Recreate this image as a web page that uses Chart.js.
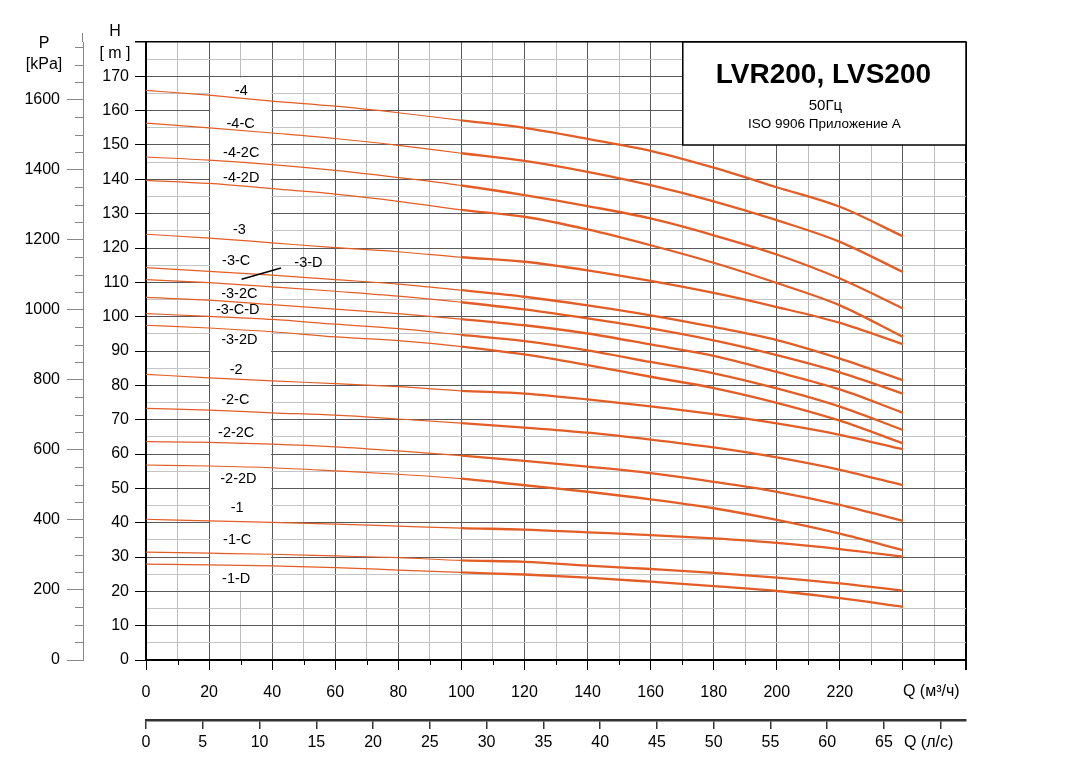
<!DOCTYPE html>
<html><head><meta charset="utf-8">
<script src="https://cdn.jsdelivr.net/npm/chart.js@4.4.0/dist/chart.umd.min.js"></script>
<style>html,body{margin:0;padding:0;background:#fff}#wrap{width:1071px;height:779px;position:relative}</style>
</head><body><div id="wrap"><canvas id="c"></canvas></div>
<script>
// ---- data ----
const flowQ = [0,20,40,60,80,100,120,140,160,180,200,220,240];          // m3/h
const curveLabels = ['-4','-4-C','-4-2C','-4-2D','-3','-3-C','-3-D','-3-2C','-3-C-D','-3-2D','-2','-2-C','-2-2C','-2-2D','-1','-1-C','-1-D'];
const head_4    = [165.9,164.5,162.8,161.3,159.4,157.2,155.0,151.8,148.3,143.4,137.7,132.0,123.4];
const head_4C   = [156.4,155.0,153.5,151.9,149.9,147.6,145.4,142.2,138.3,133.6,128.1,121.8,113.0];
const head_4_2C = [146.5,145.6,144.3,142.6,140.5,138.2,135.4,132.2,128.6,123.7,118.1,111.1,102.4];
const head_4_2D = [139.7,138.8,137.3,135.7,133.6,131.1,129.1,125.4,120.8,115.7,109.8,103.3,94.1];
const head_3    = [124.0,122.9,121.5,120.1,118.9,117.3,116.0,113.5,110.4,106.9,102.8,98.2,92.0];
const head_3C   = [114.3,113.2,112.1,110.8,109.5,107.7,105.8,103.3,100.4,97.0,93.2,87.8,81.5];
const head_3D   = [110.8,109.9,108.7,107.4,106.0,104.2,102.1,99.5,96.6,93.1,88.8,83.8,77.6];
const head_3_2C = [105.6,104.8,103.5,102.2,100.9,99.3,97.5,95.1,91.9,88.6,83.9,78.8,72.0];
const head_3CD  = [100.9,100.1,99.2,97.8,96.5,94.7,92.9,90.2,86.8,83.5,79.1,73.8,67.0];
const head_3_2D = [97.5,96.7,95.6,94.1,93.0,91.3,89.0,85.9,82.5,79.2,74.9,69.7,63.1];
const head_2    = [83.2,82.2,81.3,80.5,79.6,78.4,77.6,75.9,73.9,71.6,68.9,65.6,61.4];
const head_2C   = [73.3,72.8,72.0,71.3,70.2,69.0,67.7,66.2,64.2,61.9,59.0,55.4,50.9];
const head_2_2C = [63.6,63.4,62.9,62.1,60.9,59.5,58.0,56.3,54.4,51.9,49.0,45.2,40.5];
const head_2_2D = [56.8,56.5,56.0,55.1,54.1,52.8,50.9,49.0,46.8,44.2,40.8,36.8,32.0];
const head_1    = [41.0,40.5,40.1,39.6,39.0,38.4,38.0,37.2,36.4,35.4,34.1,32.3,30.1];
const head_1C   = [31.4,31.1,30.8,30.3,29.8,29.0,28.6,27.5,26.5,25.4,24.0,22.3,20.2];
const head_1D   = [27.9,27.7,27.4,26.9,26.2,25.5,24.9,24.0,22.8,21.5,20.1,18.0,15.5];
const curveHeads = [head_4,head_4C,head_4_2C,head_4_2D,head_3,head_3C,head_3D,head_3_2C,head_3CD,head_3_2D,head_2,head_2C,head_2_2C,head_2_2D,head_1,head_1C,head_1D];
// curve label anchors (Q, H)
const labelQ = [30.2,30.0,30.2,30.2,29.6,28.6,51.5,29.6,29.1,29.6,28.6,28.3,28.6,29.3,28.9,28.9,28.6];
const labelH = [165.8,156.2,147.7,140.4,125.2,116.2,115.7,106.7,101.9,93.1,84.4,75.7,66.0,52.7,44.3,34.9,23.6];
// tick labels
const flowTickLabels = [0,20,40,60,80,100,120,140,160,180,200,220];
const litreTickLabels = [0,5,10,15,20,25,30,35,40,45,50,55,60,65];
const headTickLabels = [0,10,20,30,40,50,60,70,80,90,100,110,120,130,140,150,160,170];
const pressureTickLabels = [0,200,400,600,800,1000,1200,1400,1600];
const titleMain = 'LVR200, LVS200';
const titleFreq = '50Гц';
const titleStd = 'ISO 9906 Приложение А';

// ---- chart ----
const FONT = "'Liberation Sans', Arial, sans-serif";
const CURVE = '#e35d26';
const Q_MAX = 260, H_MAX = 180, G = 9.80665;

const datasets = curveHeads.map((arr, i) => ({
  label: curveLabels[i],
  data: flowQ.map((q, j) => ({x: q, y: arr[j]})),
  borderColor: CURVE,
  borderWidth: 2,
  pointRadius: 0,
  fill: false,
  cubicInterpolationMode: 'monotone',
  segment: { borderWidth: c => (c.p0.parsed.x >= 100 ? 2.3 : 1.2) }
}));

const deco = {
  id: 'deco',
  beforeDatasetsDraw(chart) {
    const {ctx, scales: {x, y}} = chart;
    ctx.save();
    ctx.fillStyle = '#fff';
    const x0 = x.getPixelForValue(20.35), x1 = x.getPixelForValue(39.65);
    const yt = y.getPixelForValue(169.6), yb = y.getPixelForValue(20.2);
    ctx.fillRect(x0, yt, x1 - x0, yb - yt);
    ctx.restore();
  },
  afterDatasetsDraw(chart) {
    const {ctx, scales: {x, y, x2, yP}} = chart;
    ctx.save();
    // title box
    const bx0 = x.getPixelForValue(170.2), bx1 = x.getPixelForValue(260);
    const by0 = y.getPixelForValue(180), by1 = y.getPixelForValue(150);
    ctx.fillStyle = '#fff';
    ctx.fillRect(bx0, by0, bx1 - bx0, by1 - by0);
    ctx.strokeStyle = '#000'; ctx.lineWidth = 1.5;
    ctx.strokeRect(bx0, by0, bx1 - bx0, by1 - by0);
    ctx.fillStyle = '#000'; ctx.textAlign = 'center'; ctx.textBaseline = 'middle';
    const cx = (bx0 + bx1) / 2 - 1;
    ctx.font = 'bold 28px ' + FONT; ctx.fillText(titleMain, cx, by0 + 33);
    ctx.font = '15px ' + FONT; ctx.fillText(titleFreq, cx + 2, by0 + 64);
    ctx.font = '13.5px ' + FONT; ctx.fillText(titleStd, cx + 1, by0 + 82);
    // curve labels
    ctx.font = '14.5px ' + FONT;
    curveLabels.forEach((t, i) => ctx.fillText(t, x.getPixelForValue(labelQ[i]), y.getPixelForValue(labelH[i])));
    // leader line for -3-D
    ctx.strokeStyle = '#000'; ctx.lineWidth = 1.5;
    ctx.beginPath();
    ctx.moveTo(x.getPixelForValue(30.3), y.getPixelForValue(110.9));
    ctx.lineTo(x.getPixelForValue(42.8), y.getPixelForValue(114.2));
    ctx.stroke();
    ctx.restore();
  },
  afterDraw(chart) {
    const {ctx, scales: {x, y, x2, yP}, chartArea: ca} = chart;
    ctx.save();
    // minor ticks on Q axis
    ctx.strokeStyle = '#000'; ctx.lineWidth = 1;
    for (let q = 10; q < Q_MAX; q += 20) {
      const px = Math.round(x.getPixelForValue(q)) + 0.5;
      ctx.beginPath(); ctx.moveTo(px, ca.bottom); ctx.lineTo(px, ca.bottom + 5); ctx.stroke();
    }
    // minor ticks on P axis
    ctx.strokeStyle = '#888';
    const pr = yP.right;
    for (let p = 50; p < H_MAX * G; p += 50) {
      if (p % 200 === 0) continue;
      const py = Math.round(yP.getPixelForValue(p)) + 0.5;
      ctx.beginPath(); ctx.moveTo(pr - 8, py); ctx.lineTo(pr, py); ctx.stroke();
    }
    // P axis line extension
    ctx.beginPath(); ctx.moveTo(pr - 0.5, ca.top); ctx.lineTo(pr - 0.5, ca.top - 9); ctx.stroke();
    // axis titles
    ctx.fillStyle = '#000'; ctx.textAlign = 'center'; ctx.textBaseline = 'middle';
    ctx.font = '16px ' + FONT;
    ctx.fillText('P', 44, 44);
    ctx.fillText('[kPa]', 44, 65);
    ctx.fillText('H', 115, 32);
    ctx.fillText('[ m ]', 115, 54);
    ctx.textAlign = 'left';
    const qx = x.getPixelForValue(240);
    ctx.fillText('Q (м³/ч)', qx, ca.bottom + 32);
    ctx.fillText('Q (л/с)', qx + 1, x2.top + 23);
    ctx.restore();
  }
};

new Chart(document.getElementById('c'), {
  type: 'line',
  data: { datasets },
  plugins: [deco],
  options: {
    responsive: true, maintainAspectRatio: false, animation: false,
    layout: { padding: { left: 0, top: 42, right: 105, bottom: 0 } },
    plugins: { legend: { display: false }, tooltip: { enabled: false } },
    scales: {
      x: {
        type: 'linear', position: 'bottom', weight: 0, min: 0, max: Q_MAX,
        afterFit: s => { s.height = 60; },
        ticks: { stepSize: 10, maxTicksLimit: 100, autoSkip: false, maxRotation: 0, padding: 13, color: '#000',
          font: { family: FONT, size: 16 },
          callback: v => (flowTickLabels.includes(v) ? String(v) : '') },
        grid: {
          color: c => (c.tick.value === Q_MAX ? '#000' : (c.tick.value % 20 === 0 ? '#5a5a5a' : '#bdbdbd')),
          lineWidth: c => (c.tick.value === Q_MAX ? 2 : 1),
          tickLength: 10,
          tickColor: c => (c.tick.value % 20 === 0 ? '#000' : 'rgba(0,0,0,0)')
        },
        border: { display: true, color: '#000', width: 2 }
      },
      x2: {
        type: 'linear', position: 'bottom', weight: 1, min: 0, max: Q_MAX / 3.6,
        afterFit: s => { s.height = 59; },
        ticks: { stepSize: 5, maxTicksLimit: 100, includeBounds: false, autoSkip: false, maxRotation: 0, padding: 4, color: '#000',
          font: { family: FONT, size: 16 },
          callback: v => (litreTickLabels.includes(v) ? String(v) : '') },
        grid: { drawOnChartArea: false, tickLength: 9, tickColor: '#333', lineWidth: 1.5 },
        border: { display: true, color: '#333', width: 2.5 }
      },
      y: {
        type: 'linear', position: 'left', weight: 0, min: 0, max: H_MAX,
        afterFit: s => { s.width = 63; },
        ticks: { stepSize: 5, maxTicksLimit: 100, autoSkip: false, padding: 6, color: '#000',
          font: { family: FONT, size: 16 },
          callback: v => (headTickLabels.includes(v) ? String(v) : '') },
        grid: {
          color: c => (c.tick.value === H_MAX ? '#000' : (c.tick.value % 10 === 0 ? '#5a5a5a' : '#c4c4c4')),
          lineWidth: c => (c.tick.value === H_MAX ? 1.5 : 1),
          tickLength: 11,
          tickColor: c => (c.tick.value % 10 === 0 ? '#000' : 'rgba(0,0,0,0)')
        },
        border: { display: true, color: '#000', width: 2 }
      },
      yP: {
        type: 'linear', position: 'left', weight: 1, min: 0, max: H_MAX * G,
        afterFit: s => { s.width = 83; },
        ticks: { stepSize: 50, maxTicksLimit: 100, includeBounds: false, autoSkip: false, padding: 7, color: '#000',
          font: { family: FONT, size: 16 },
          callback: v => (pressureTickLabels.includes(v) ? String(v) : '') },
        grid: { drawOnChartArea: false, tickLength: 16, lineWidth: 1,
          tickColor: c => (c.tick.value % 200 === 0 ? '#888' : 'rgba(0,0,0,0)') },
        border: { display: true, color: '#888', width: 1 }
      }
    }
  }
});
</script>
</body></html>
